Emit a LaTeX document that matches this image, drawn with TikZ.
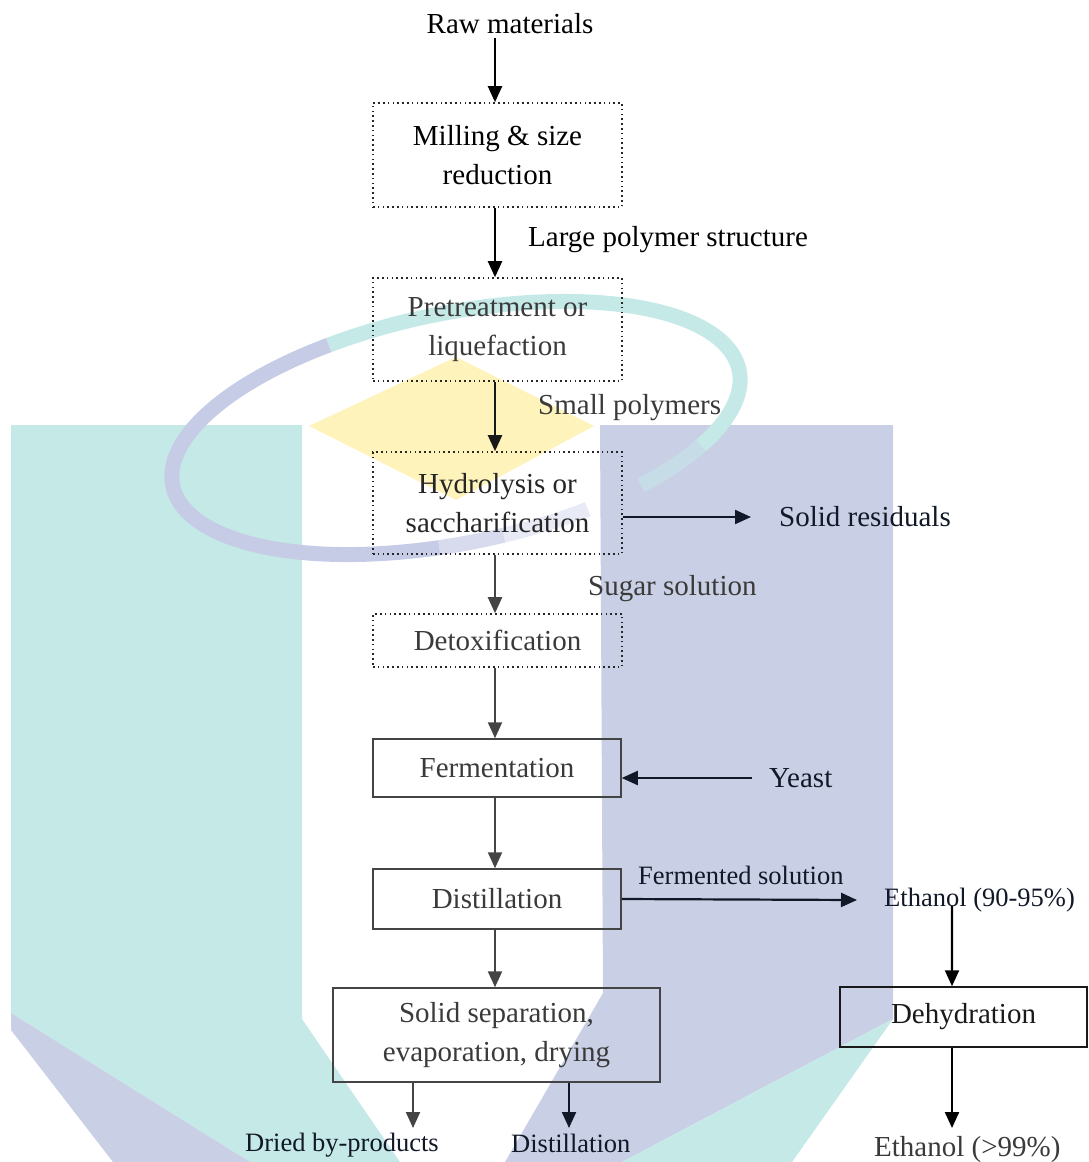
\documentclass[tikz,border=0pt]{standalone}
\usepackage{fontspec}
\setmainfont{Liberation Serif}
\usetikzlibrary{arrows.meta}
\definecolor{wteal}{HTML}{C4E9E7}
\definecolor{wblue}{HTML}{C9D0E5}
\definecolor{wyel}{HTML}{FFF3BC}
\definecolor{ringblue}{HTML}{C6CCE5}
\definecolor{ringteal}{HTML}{C4E9E7}
\definecolor{txtgray}{HTML}{3A3A3A}
\definecolor{linegray}{HTML}{444444}
\definecolor{navy}{HTML}{111827}
\newcommand\fsBig{\fontsize{29}{39}\selectfont}
\newcommand\fsSmall{\fontsize{26.5}{34}\selectfont}
\begin{document}
\begin{tikzpicture}[x=1pt,y=-1pt,
  dotbox/.style={draw=black!85, line width=1.6pt, dash pattern=on 1.6pt off 3.2pt,
    minimum width=249pt, inner sep=0pt, align=center, font=\fsBig},
  solidbox/.style={draw=linegray, line width=1.5pt, inner sep=0pt, align=center, font=\fsBig},
  lbl/.style={inner sep=0pt, anchor=west, font=\fsBig},
  slbl/.style={inner sep=0pt, anchor=west, font=\fsSmall},
  arr/.style={-{Triangle[width=14pt,length=16pt]}, line width=2.2pt},
]
\useasboundingbox (0,0) rectangle (1088,1162);
% ---------- watermark ----------
\fill[wteal] (11,425) -- (302,425) -- (302,1019) -- (400,1162) -- (250,1162) -- (11,1013) -- cycle;
\fill[wblue] (11,1013) -- (250,1162) -- (113,1162) -- (11,1030) -- cycle;
\fill[wblue] (600,425) -- (893,425) -- (893,1019) -- (622,1162) -- (505,1162) -- (603,993) -- cycle;
\fill[wteal] (893,1019) -- (792,1162) -- (622,1162) -- cycle;
\fill[wyel] (309,426) -- (456,357) -- (594,426) -- (456,500) -- cycle;
\begin{scope}[shift={(456,428)}, y=1pt, rotate=11.5]
  \draw[ringteal, line width=15pt] (112:289pt and 115pt) arc[start angle=112, end angle=-35, x radius=289pt, y radius=115pt];
  \draw[ringteal, line width=15pt, opacity=0.5] (-35:289pt and 115pt) arc[start angle=-35, end angle=-54, x radius=289pt, y radius=115pt];
  \draw[ringblue, line width=15pt] (112:289pt and 115pt) arc[start angle=112, end angle=262, x radius=289pt, y radius=115pt];
  \draw[ringblue, line width=15pt, opacity=0.7] (262:289pt and 115pt) arc[start angle=262, end angle=275, x radius=289pt, y radius=115pt];
  \draw[ringblue, line width=15pt, opacity=0.4] (275:289pt and 115pt) arc[start angle=275, end angle=293, x radius=289pt, y radius=115pt];
\end{scope}
% ---------- diagram ----------
\node[inner sep=0pt, font=\fsBig] (raw) at (510,24) {Raw materials};
\node[dotbox, minimum height=104pt] (mill) at (497.5,155) {Milling \& size\\reduction};
\node[lbl] (lps) at (528,240) {Large polymer structure};
\node[dotbox, minimum height=103pt, text=txtgray] (pre) at (497.5,329.5) {Pretreatment or\\liquefaction};
\node[lbl, text=txtgray] (smp) at (538,408) {Small polymers};
\node[dotbox, minimum height=102pt, text=black!85] (hyd) at (497.5,503) {Hydrolysis or\\saccharification};
\node[lbl, text=navy] (solres) at (779,517) {Solid residuals};
\node[lbl, text=txtgray] (sug) at (588,589) {Sugar solution};
\node[dotbox, minimum height=53pt, text=txtgray] (detox) at (497.5,640.5) {Detoxification};
\node[solidbox, minimum width=248pt, minimum height=58pt, text=txtgray] (ferm) at (497,768) {Fermentation};
\node[lbl, text=navy] (yeast) at (769,778) {Yeast};
\node[solidbox, minimum width=248pt, minimum height=60pt, text=txtgray] (dist) at (497,899) {Distillation};
\node[slbl, text=navy] (fsol) at (638,875) {Fermented solution};
\node[slbl, text=navy] (eth1) at (884,900) {Ethanol (90-95\%)};
\node[solidbox, draw=black!90, minimum width=247pt, minimum height=60pt, text=black!90] (dehy) at (963.5,1017) {Dehydration};
\node[lbl, text=txtgray] (eth2) at (874,1150) {Ethanol (>99\%)};
\node[solidbox, minimum width=327pt, minimum height=94pt, text=txtgray] (sep) at (496.5,1035) {Solid separation,\\evaporation, drying};
\node[slbl, text=navy] (dried) at (245,1145) {Dried by-products};
\node[slbl, text=navy] (dist2) at (511,1143) {Distillation};
\coordinate (d1) at (413,1128);
\coordinate (d2) at (569,1128);
% ---------- connectors ----------
\draw[arr, black] ([xshift=-15pt]raw.south) ++(0,4) -- ([xshift=-2.5pt]mill.north);
\draw[arr, black] ([xshift=-2.5pt]mill.south) -- ([xshift=-2.5pt]pre.north);
\draw[arr, black!90] ([xshift=-2.5pt]pre.south) -- ([xshift=-2.5pt]hyd.north);
\draw[arr, navy] (hyd.east |- solres.west) -- ([xshift=-28pt]solres.west);
\draw[arr, linegray] ([xshift=-2.5pt]hyd.south) -- ([xshift=-2.5pt]detox.north);
\draw[arr, linegray] ([xshift=-2.5pt]detox.south) -- ([xshift=-2pt]ferm.north);
\draw[arr, navy] ([xshift=-17pt]yeast.west) -- (yeast.west -| ferm.east);
\draw[arr, linegray] ([xshift=-2pt]ferm.south) -- ([xshift=-2pt]dist.north);
\draw[arr, navy] (dist.east) -- ([xshift=-27pt]eth1.west);
\draw[arr, linegray] ([xshift=-2pt]dist.south) -- ([xshift=-1.5pt]sep.north);
\draw[arr, black] ([xshift=-27.5pt, yshift=6pt]eth1.south) -- ([xshift=-11.5pt]dehy.north);
\draw[arr, black] ([xshift=-11.5pt]dehy.south) -- ([xshift=-11.5pt]dehy.south |- d1);
\draw[arr, linegray] (sep.south -| d1) -- (d1);
\draw[arr, navy] (sep.south -| d2) -- (d2);
\end{tikzpicture}
\end{document}
